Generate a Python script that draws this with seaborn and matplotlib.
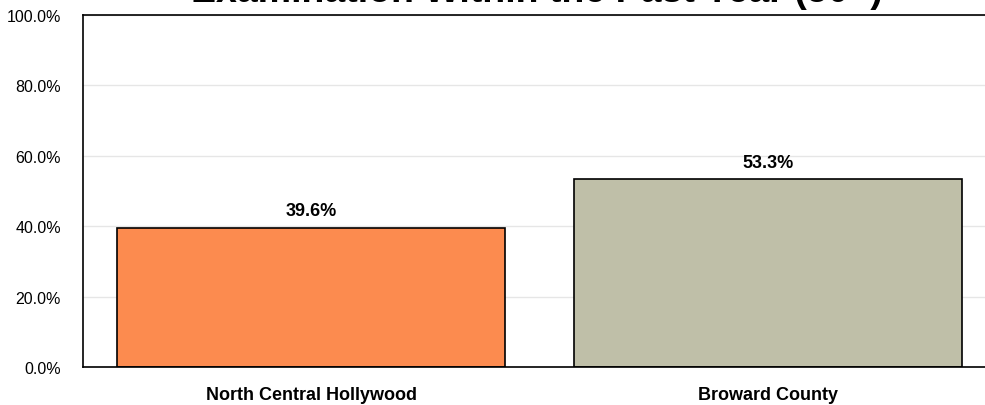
import matplotlib
matplotlib.use("Agg")
import matplotlib.pyplot as plt
import seaborn as sns
import pandas as pd
from matplotlib.ticker import PercentFormatter

areas = ["North Central Hollywood", "Broward County"]
pct = [39.6, 53.3]
bar_colors = ["#FC8B4F", "#BFBFA8"]

sns.set_style("white")
plt.rcParams['font.family'] = ['Liberation Sans', 'DejaVu Sans']
plt.rcParams['text.color'] = 'black'
plt.rcParams['xtick.color'] = 'black'
plt.rcParams['ytick.color'] = 'black'

df = pd.DataFrame({"area": areas, "pct": pct})

fig = plt.figure(figsize=(9.85, 4.06), dpi=100)
ax = fig.add_axes([83/985, 38/406, 913/985, 352/406])
sns.barplot(data=df, x="area", y="pct", hue="area", palette=bar_colors,
            saturation=1, width=0.85, edgecolor="black", linewidth=1.2,
            legend=False, ax=ax)

ax.set_ylim(0, 100)
ax.set_xlim(-0.5, 1.5)
ax.set_yticks([0, 20, 40, 60, 80, 100])
ax.yaxis.set_major_formatter(PercentFormatter(decimals=1))
ax.grid(axis="y", color="#e6e6e6", linewidth=1)
ax.set_axisbelow(True)
for s in ["left", "top", "bottom"]:
    ax.spines[s].set_color("black")
    ax.spines[s].set_linewidth(1.2)
ax.spines["right"].set_visible(False)
ax.set_xlabel("")
ax.set_ylabel("")
ax.tick_params(axis="y", labelsize=11.5, length=0, pad=16)
ax.tick_params(axis="x", labelsize=13, length=0, pad=14)
for lbl in ax.get_xticklabels():
    lbl.set_fontweight("bold")

for i, v in enumerate(pct):
    ax.annotate(f"{v:.1f}%", (i, v), xytext=(0, 6), textcoords="offset points",
                ha="center", va="bottom", fontsize=13, fontweight="bold")

fig.text(537/985, 1 - 2.5/406, "Examination Within the Past Year (50+)",
         ha="center", va="baseline", fontsize=27, fontweight="bold")

fig.savefig("out.png", dpi=100)
